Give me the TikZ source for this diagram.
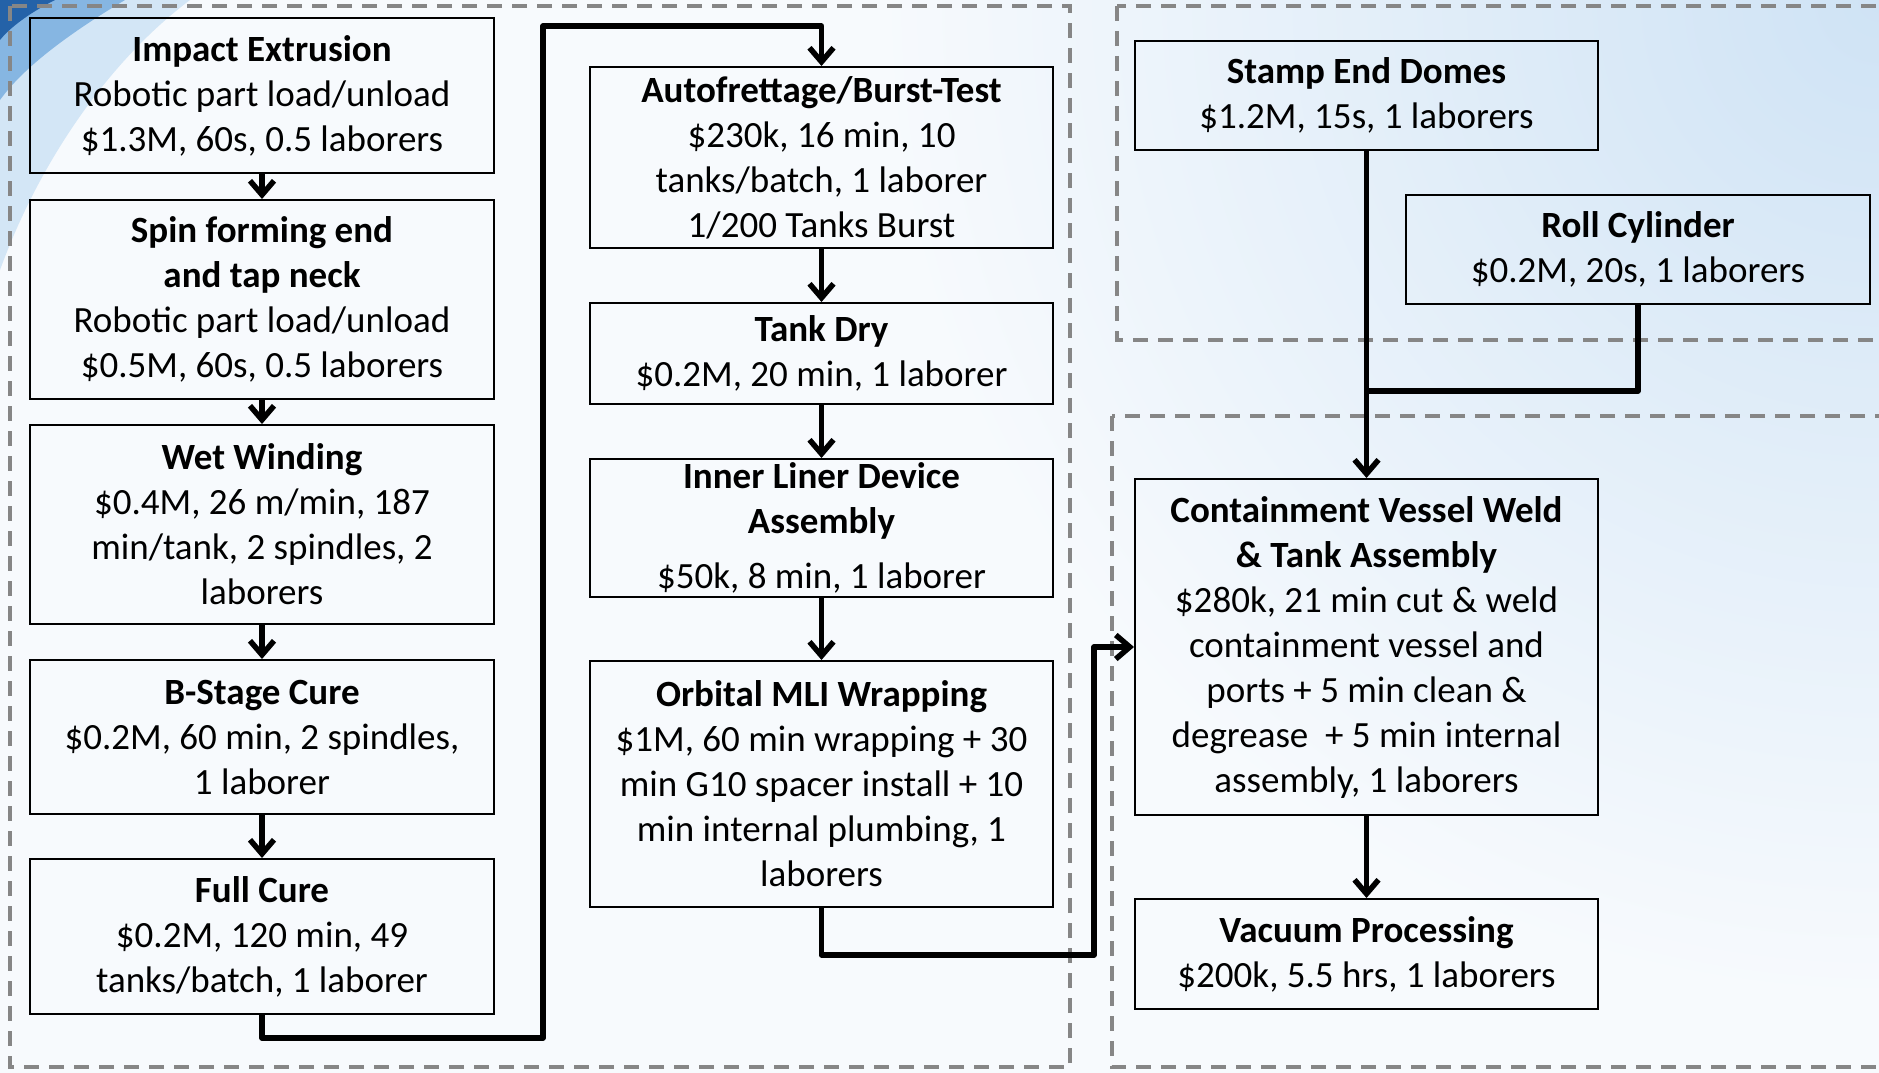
\documentclass[tikz,border=0pt]{standalone}
\usepackage{fontspec}
\setmainfont{Carlito}
\usetikzlibrary{arrows.meta}
\definecolor{dashgray}{HTML}{868686}
\definecolor{bgtint}{HTML}{F7FAFD}
\definecolor{skyA}{HTML}{CFE3F5}
\definecolor{cornerDark}{HTML}{2462A8}
\definecolor{cornerMid}{HTML}{86B6E2}
\definecolor{cornerLight}{HTML}{D3E6F6}
\begin{document}
\begin{tikzpicture}[x=1pt,y=-1pt,
  box/.style={draw=black, line width=2pt, inner sep=0pt, align=center,
              font=\fontsize{37}{45}\selectfont},
  flow/.style={line width=5.5pt, line join=round, -{Straight Barb[length=14pt,width=24pt]}},
  link/.style={line width=5.5pt, line join=round},
  zone/.style={draw=dashgray, line width=4pt, dash pattern=on 15pt off 10pt}]
% background
\useasboundingbox (0,0) rectangle (1879,1073);
\fill[bgtint] (0,0) rectangle (1879,1073);
\begin{scope}
  \clip (0,0) rectangle (1879,1073);
  \shade[inner color=skyA, outer color=bgtint] (1879,0) circle (1000);
  \fill[cornerLight] (0,0) -- (190,0) .. controls (110,60) and (40,160) .. (0,270) -- cycle;
  \fill[cornerMid] (0,0) -- (125,0) .. controls (75,30) and (25,65) .. (0,100) -- cycle;
  \fill[cornerDark] (0,0) -- (55,0) .. controls (35,10) and (12,25) .. (0,40) -- cycle;
\end{scope}
% dashed zones
\draw[zone] (10,6) rectangle (1070,1067);
\draw[zone] (1117,6) rectangle (1900,340);
\draw[zone] (1112,416) rectangle (1900,1067);
% left column
\node[box, minimum width=464, minimum height=155] (n1) at (262,95.5)
  {\textbf{Impact Extrusion}\\Robotic part load/unload\\\$1.3M, 60s, 0.5 laborers};
\node[box, minimum width=464, minimum height=199] (n2) at (262,299.5)
  {\textbf{Spin forming end}\\\textbf{and tap neck}\\Robotic part load/unload\\\$0.5M, 60s, 0.5 laborers};
\node[box, minimum width=464, minimum height=199] (n3) at (262,524.5)
  {\textbf{Wet Winding}\\\$0.4M, 26 m/min, 187\\min/tank, 2 spindles, 2\\laborers};
\node[box, minimum width=464, minimum height=154] (n4) at (262,737)
  {\textbf{B-Stage Cure}\\\$0.2M, 60 min, 2 spindles,\\1 laborer};
\node[box, minimum width=464, minimum height=155] (n5) at (262,936.5)
  {\textbf{Full Cure}\\\$0.2M, 120 min, 49\\tanks/batch, 1 laborer};
% middle column
\node[box, minimum width=463, minimum height=181] (n6) at (821.5,157.5)
  {\textbf{Autofrettage/Burst-Test}\\\$230k, 16 min, 10\\tanks/batch, 1 laborer\\1/200 Tanks Burst};
\node[box, minimum width=463, minimum height=101] (n7) at (821.5,353.5)
  {\textbf{Tank Dry}\\\$0.2M, 20 min, 1 laborer};
\node[box, minimum width=463, minimum height=138] (n8) at (821.5,528)
  {\textbf{Inner Liner Device}\\\textbf{Assembly}\\[10pt]\$50k, 8 min, 1 laborer};
\node[box, minimum width=463, minimum height=246] (n9) at (821.5,784)
  {\textbf{Orbital MLI Wrapping}\\\$1M, 60 min wrapping + 30\\min G10 spacer install + 10\\min internal plumbing, 1\\laborers};
% right column
\node[box, minimum width=463, minimum height=109] (n10) at (1366.5,95.5)
  {\textbf{Stamp End Domes}\\\$1.2M, 15s, 1 laborers};
\node[box, minimum width=464, minimum height=109] (n11) at (1638,249.5)
  {\textbf{Roll Cylinder}\\\$0.2M, 20s, 1 laborers};
\node[box, minimum width=463, minimum height=336] (n12) at (1366.5,647)
  {\textbf{Containment Vessel Weld}\\\textbf{\& Tank Assembly}\\\$280k, 21 min cut \& weld\\containment vessel and\\ports + 5 min clean \&\\degrease\ \ + 5 min internal\\assembly, 1 laborers};
\node[box, minimum width=463, minimum height=110] (n13) at (1366.5,954)
  {\textbf{Vacuum Processing}\\\$200k, 5.5 hrs, 1 laborers};
% bend points
\coordinate (b1) at (543,1038);
\coordinate (b2) at (543,26);
\coordinate (b3) at (1094,955);
\coordinate (j) at (1366.5,391);
% connectors
\draw[flow] (n1) -- (n2);
\draw[flow] (n2) -- (n3);
\draw[flow] (n3) -- (n4);
\draw[flow] (n4) -- (n5);
\draw[flow] (n5.south) |- (b1) -- (b2) -| (n6.north);
\draw[flow] (n6) -- (n7);
\draw[flow] (n7) -- (n8);
\draw[flow] (n8) -- (n9);
\draw[flow] (n9.south) |- (b3) |- (n12.west);
\draw[flow] (n10.south) -- (n12.north);
\draw[link] (n11.south) |- (j);
\draw[flow] (n12) -- (n13);
\end{tikzpicture}
\end{document}
